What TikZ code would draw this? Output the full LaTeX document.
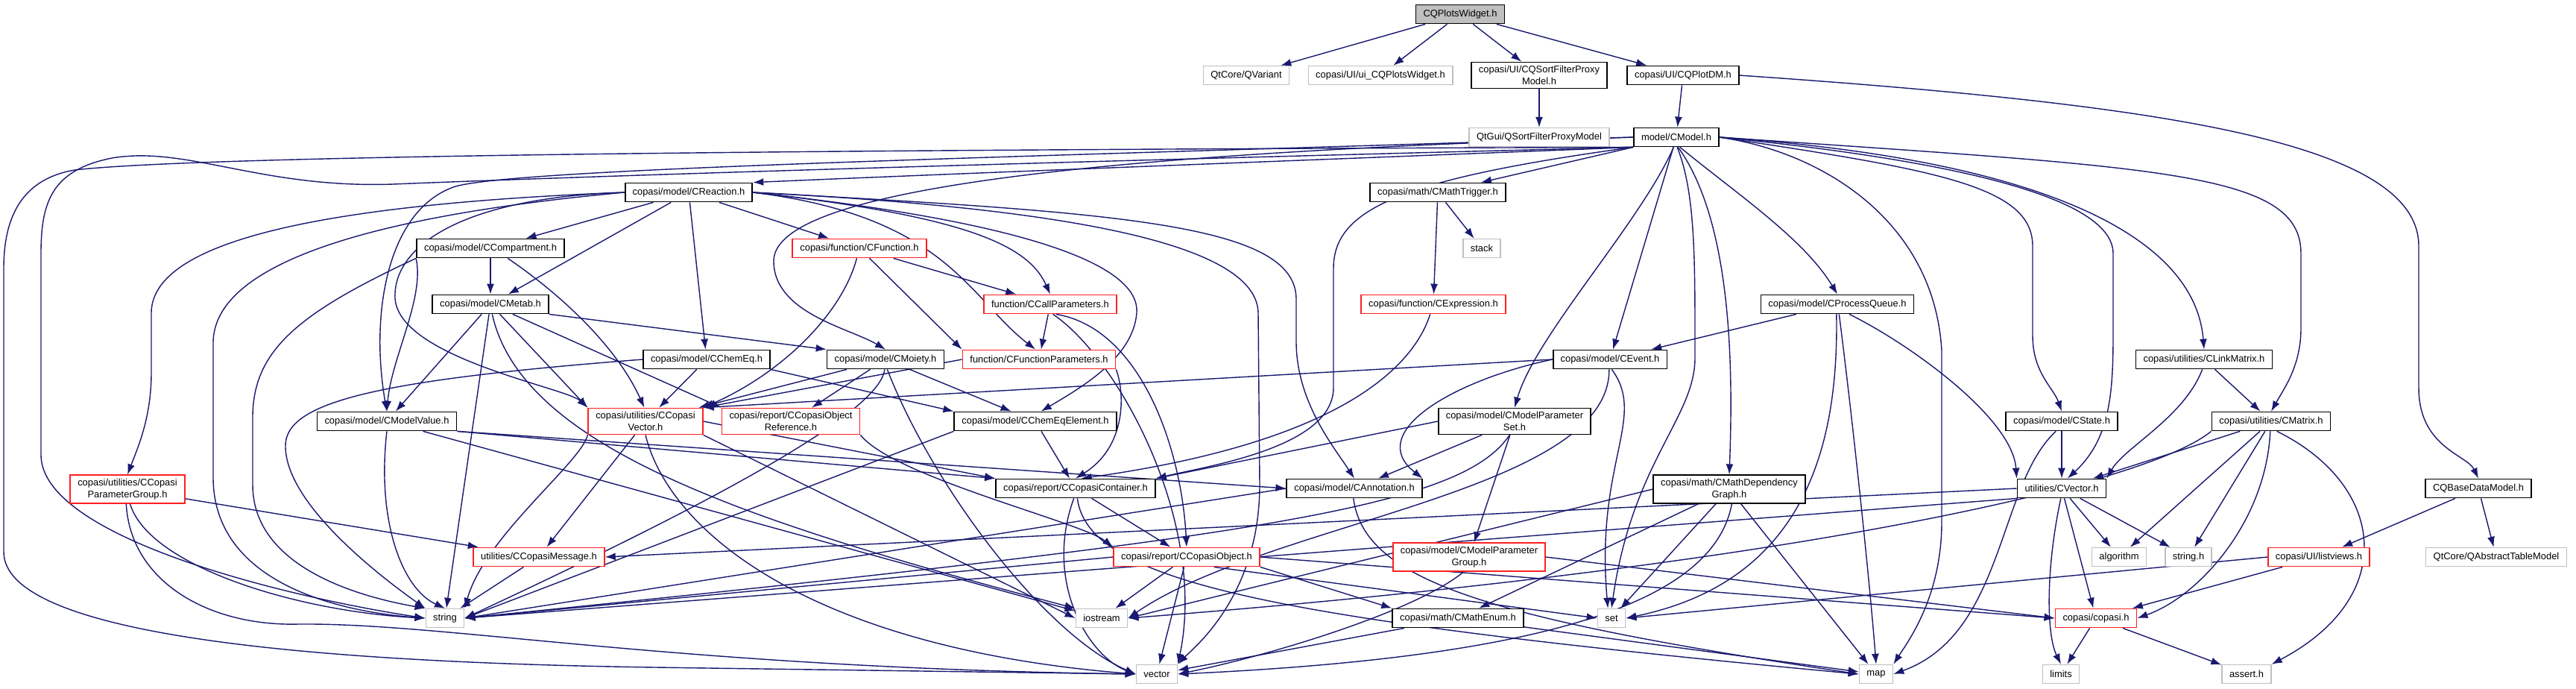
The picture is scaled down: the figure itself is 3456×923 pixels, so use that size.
\documentclass[tikz,border=0pt]{standalone}
\usepackage{fontspec}
\setmainfont{Liberation Sans}
\usepackage{tikz}
\usetikzlibrary{arrows.meta}
\definecolor{depblue}{HTML}{191970}
\definecolor{hdrred}{HTML}{FF2020}
\definecolor{hdrgray}{HTML}{BFBFBF}
\newcommand{\hdrfont}{\fontsize{3.67}{4.4}\selectfont}
\pgfdeclarelayer{bg}
\pgfsetlayers{bg,main}

\begin{document}
\begin{tikzpicture}[x=0.01cm,y=-0.01cm,>=Latex,
  hdr/.style={draw=black,line width=0.5pt,fill=white,font=\hdrfont,align=center,inner xsep=0.1cm,inner ysep=0.05cm,minimum height=0.25cm},
  hdrbad/.style={hdr,draw=hdrred},
  hdrsys/.style={hdr,draw=hdrgray,line width=0.4pt},
  hdrtop/.style={hdr,fill=hdrgray},
  dep/.style={draw=depblue,line width=0.4pt,-{Latex[length=1.4mm,width=1mm]}}]
  \useasboundingbox (0,0) rectangle (3456,923);

  % row 0 - 2
  \node[hdrtop] (w) at (1959,19) {CQPlotsWidget.h};
  \node[hdrsys] (qvar) at (1672,101) {QtCore/QVariant};
  \node[hdrsys] (uiw) at (1852,101) {copasi/UI/ui\_CQPlotsWidget.h};
  \node[hdr] (sfpm) at (2065,101) {copasi/UI/CQSortFilterProxy\\Model.h};
  \node[hdr] (pdm) at (2258,101) {copasi/UI/CQPlotDM.h};
  \node[hdrsys] (qsfpm) at (2065,184) {QtGui/QSortFilterProxyModel};
  \node[hdr] (cmodel) at (2249,184) {model/CModel.h};
  % row 3 - 6
  \node[hdr] (creac) at (924,258) {copasi/model/CReaction.h};
  \node[hdr] (ctrig) at (1929,258) {copasi/math/CMathTrigger.h};
  \node[hdr] (ccomp) at (658,333) {copasi/model/CCompartment.h};
  \node[hdrbad] (cfunc) at (1153,333) {copasi/function/CFunction.h};
  \node[hdrsys] (stack) at (1988,333) {stack};
  \node[hdr] (cmetab) at (658,408) {copasi/model/CMetab.h};
  \node[hdrbad] (ccall) at (1409,408) {function/CCallParameters.h};
  \node[hdrbad] (cexpr) at (1923,408) {copasi/function/CExpression.h};
  \node[hdr] (cpq) at (2465,408) {copasi/model/CProcessQueue.h};
  \node[hdr] (cchemeq) at (948,482) {copasi/model/CChemEq.h};
  \node[hdr] (cmoiety) at (1188,482) {copasi/model/CMoiety.h};
  \node[hdrbad] (cfpar) at (1394,482) {function/CFunctionParameters.h};
  \node[hdr] (cevent) at (2160,482) {copasi/model/CEvent.h};
  \node[hdr] (clink) at (2957,482) {copasi/utilities/CLinkMatrix.h};
  % row 7 - 8
  \node[hdr] (cmval) at (519,565) {copasi/model/CModelValue.h};
  \node[hdrbad] (ccvec) at (866,565) {copasi/utilities/CCopasi\\Vector.h};
  \node[hdrbad] (cobjref) at (1061,565) {copasi/report/CCopasiObject\\Reference.h};
  \node[hdr] (cceel) at (1389,565) {copasi/model/CChemEqElement.h};
  \node[hdr] (cmpset) at (2032,565) {copasi/model/CModelParameter\\Set.h};
  \node[hdr] (cstate) at (2766,565) {copasi/model/CState.h};
  \node[hdr] (cmatrix) at (3047,565) {copasi/utilities/CMatrix.h};
  \node[hdrbad] (cpgroup) at (171,656) {copasi/utilities/CCopasi\\ParameterGroup.h};
  \node[hdr] (ccont) at (1443,655) {copasi/report/CCopasiContainer.h};
  \node[hdr] (cannot) at (1817,655) {copasi/model/CAnnotation.h};
  \node[hdr] (cmdg) at (2320,656) {copasi/math/CMathDependency\\Graph.h};
  \node[hdr] (cvector) at (2766,655) {utilities/CVector.h};
  \node[hdr] (cqbdm) at (3325,655) {CQBaseDataModel.h};
  % row 9 - 11
  \node[hdrbad] (cmsg) at (723,747) {utilities/CCopasiMessage.h};
  \node[hdrbad] (cobj) at (1592,747) {copasi/report/CCopasiObject.h};
  \node[hdrbad] (cmpgroup) at (1971,747) {copasi/model/CModelParameter\\Group.h};
  \node[hdrsys] (algo) at (2843,747) {algorithm};
  \node[hdrsys] (strh) at (2936,747) {string.h};
  \node[hdrbad] (lview) at (3111,747) {copasi/UI/listviews.h};
  \node[hdrsys] (qatm) at (3349,747) {QtCore/QAbstractTableModel};
  \node[hdrsys] (string) at (597,829) {string};
  \node[hdrsys] (iostream) at (1478,829) {iostream};
  \node[hdr] (cmenum) at (1956,829) {copasi/math/CMathEnum.h};
  \node[hdrsys] (set) at (2162,829) {set};
  \node[hdrbad] (copasi) at (2812,829) {copasi/copasi.h};
  \node[hdrsys] (vector) at (1552,904) {vector};
  \node[hdrsys] (map) at (2517,904) {map};
  \node[hdrsys] (limits) at (2765,904) {limits};
  \node[hdrsys] (assert) at (3014,904) {assert.h};

  \begin{pgfonlayer}{bg}
  \fill[white] (0,0) rectangle (3456,923);
  % top of the graph
  \draw[dep] (w) -- (qvar);
  \draw[dep] (w) -- (uiw);
  \draw[dep] (w) -- (sfpm);
  \draw[dep] (w) -- (pdm);
  \draw[dep] (sfpm) -- (qsfpm);
  \draw[dep] (pdm) -- (cmodel);
  \draw[dep] (pdm.east) .. controls (2900,140) and (3245,190) .. (3245,330) -- (3245,520) .. controls (3245,600) and (3310,610) .. (cqbdm.north);
  % model/CModel.h
  \draw[dep] (cmodel.south west) .. controls (1750,215) and (1300,232) .. (creac.north east);
  \draw[dep] (cmodel) -- (ctrig);
  \draw[dep] (cmodel.290) .. controls (2330,260) and (2420,320) .. (cpq.north);
  \draw[dep] (cmodel) -- (cevent);
  \draw[dep] (cmodel.255) .. controls (2200,300) and (2060,450) .. (cmpset.north);
  \draw[dep] (cmodel.280) .. controls (2325,300) and (2325,500) .. (cmdg.north);
  \draw[dep] (cmodel.275) .. controls (2275,260) and (2274,350) .. (2274,480) .. controls (2274,560) and (2190,620) .. (set.north);
  \draw[dep] (cmodel.east) .. controls (2450,205) and (2595,300) .. (2605,470) -- (2605,700) .. controls (2605,800) and (2560,860) .. (map.north east);
  \draw[dep] (cmodel.east) .. controls (2750,215) and (2945,320) .. (clink.north);
  \draw[dep] (cmodel.east) .. controls (2900,225) and (3087,230) .. (3087,340) -- (3087,440) .. controls (3087,490) and (3065,520) .. (cmatrix.north);
  \draw[dep] (cmodel.east) .. controls (2600,228) and (2727,250) .. (2727,330) -- (2727,450) .. controls (2727,500) and (2755,520) .. (cstate.north);
  \draw[dep] (cmodel.east) .. controls (2650,218) and (2835,270) .. (2835,340) -- (2835,450) .. controls (2835,530) and (2830,590) .. (cvector.60);
  \draw[dep] (cmodel.south west) .. controls (1880,240) and (1789,280) .. (1789,360) -- (1789,520) .. controls (1789,600) and (1620,625) .. (ccont.north east);
  \draw[dep] (cmodel.west) .. controls (1500,205) and (1038,250) .. (1038,350) .. controls (1038,420) and (1140,440) .. (cmoiety.north);
  \draw[dep] (cmodel.west) .. controls (1400,210) and (700,225) .. (611,250) .. controls (520,280) and (496,420) .. (cmval.north);
  \draw[dep] (cmodel.south west) .. controls (1500,215) and (900,232) .. (527,247) .. controls (350,253) and (250,195) .. (150,212) .. controls (70,228) and (55,270) .. (55,340) -- (55,610) .. controls (55,720) and (380,800) .. (string.west);
  \draw[dep] (cmodel.south west) .. controls (1400,200) and (300,205) .. (100,228) .. controls (30,240) and (5,290) .. (5,360) -- (5,740) .. controls (5,850) and (400,888) .. (880,895) -- (vector.west);
  % copasi/model/CReaction.h
  \draw[dep] (creac) -- (ccomp);
  \draw[dep] (creac) -- (cmetab);
  \draw[dep] (creac) -- (cfunc);
  \draw[dep] (creac) -- (cchemeq);
  \draw[dep] (creac.east) .. controls (1300,290) and (1380,330) .. (ccall.north);
  \draw[dep] (creac.east) .. controls (1270,290) and (1300,400) .. (cfpar.110);
  \draw[dep] (creac.east) .. controls (1400,300) and (1530,360) .. (1525,420) .. controls (1520,480) and (1450,520) .. (cceel.60);
  \draw[dep] (creac.east) .. controls (1500,285) and (1737,300) .. (1739,400) -- (1739,460) .. controls (1740,540) and (1790,600) .. (cannot.north);
  \draw[dep] (creac.east) .. controls (1450,280) and (1687,330) .. (1688,420) -- (1690,650) .. controls (1690,800) and (1600,870) .. (vector.north east);
  \draw[dep] (creac.west) .. controls (620,265) and (527,330) .. (530,400) .. controls (535,480) and (760,520) .. (ccvec.north west);
  \draw[dep] (creac.west) .. controls (400,275) and (203,330) .. (203,420) -- (203,500) .. controls (203,560) and (185,600) .. (cpgroup.north);
  \draw[dep] (creac.west) .. controls (600,280) and (286,330) .. (286,460) -- (286,640) .. controls (286,780) and (450,820) .. (string.west);
  % copasi/model/CCompartment.h
  \draw[dep] (ccomp) -- (cmetab);
  \draw[dep] (ccomp.-30) .. controls (760,400) and (830,470) .. (ccvec.95);
  \draw[dep] (ccomp.south west) .. controls (570,400) and (525,480) .. (cmval.north);
  \draw[dep] (ccomp.south west) .. controls (400,420) and (339,470) .. (339,560) -- (339,650) .. controls (339,760) and (480,800) .. (string.north west);
  % copasi/model/CMetab.h
  \draw[dep] (cmetab) -- (cmval);
  \draw[dep] (cmetab) -- (ccvec.north west);
  \draw[dep] (cmetab.south east) -- (cmoiety.north west);
  \draw[dep] (cmetab) -- (cobjref.north west);
  \draw[dep] (cmetab) -- (string);
  \draw[dep] (cmetab.-80) .. controls (700,600) and (1000,700) .. (iostream.north west);
  % copasi/function/CFunction.h and friends
  \draw[dep] (cfunc) -- (ccall);
  \draw[dep] (cfunc) -- (cfpar.north west);
  \draw[dep] (cfunc.255) .. controls (1130,420) and (1050,500) .. (ccvec.north east);
  \draw[dep] (ccall) -- (cfpar);
  \draw[dep] (ccall.-60) .. controls (1530,440) and (1585,600) .. (cobj.north);
  \draw[dep] (ccall.-75) .. controls (1500,480) and (1620,700) .. (vector.north east);
  \draw[dep] (ctrig) -- (stack);
  \draw[dep] (ctrig) -- (cexpr);
  \draw[dep] (cexpr) .. controls (1900,480) and (1820,590) .. (ccont.60);
  % copasi/model/CProcessQueue.h
  \draw[dep] (cpq) -- (cevent);
  \draw[dep] (cpq.-95) .. controls (2467,600) and (2420,780) .. (set.east);
  \draw[dep] (cpq.-80) .. controls (2490,600) and (2510,800) .. (map.north);
  \draw[dep] (cpq.-40) .. controls (2560,460) and (2700,560) .. (cvector.north west);
  % copasi/model/CChemEq.h, CMoiety.h, CFunctionParameters.h
  \draw[dep] (cchemeq) -- (ccvec);
  \draw[dep] (cchemeq.south east) -- (cceel.north west);
  \draw[dep] (cchemeq.west) .. controls (500,510) and (380,540) .. (383,600) .. controls (385,680) and (520,780) .. (string.north west);
  \draw[dep] (cmoiety) -- (ccvec);
  \draw[dep] (cmoiety) -- (cobjref);
  \draw[dep] (cmoiety) -- (cceel);
  \draw[dep] (cmoiety.-95) .. controls (1180,560) and (900,700) .. (string.east);
  \draw[dep] (cmoiety.-80) .. controls (1250,650) and (1400,850) .. (vector.west);
  \draw[dep] (cfpar.west) -- (ccvec.north east);
  \draw[dep] (cfpar.south east) .. controls (1510,530) and (1510,600) .. (ccont.north);
  % copasi/model/CEvent.h
  \draw[dep] (cevent.west) -- (ccvec.north east);
  \draw[dep] (cevent.west) .. controls (1950,510) and (1830,580) .. (cannot.north east);
  \draw[dep] (cevent.-80) .. controls (2210,560) and (2140,620) .. (set.110);
  \draw[dep] (cevent.-95) .. controls (2160,660) and (1700,700) .. (iostream.east);
  % copasi/utilities/CLinkMatrix.h
  \draw[dep] (clink.-100) .. controls (2930,560) and (2850,600) .. (cvector.north east);
  \draw[dep] (clink) -- (cmatrix);
  % copasi/model/CModelValue.h
  \draw[dep] (cmval.south east) -- (ccont.north west);
  \draw[dep] (cmval.south east) -- (cannot.west);
  \draw[dep] (cmval.south) .. controls (505,700) and (540,790) .. (string.north);
  \draw[dep] (cmval) -- (iostream);
  % copasi/utilities/CCopasiVector.h
  \draw[dep] (ccvec.south west) .. controls (780,620) and (650,720) .. (string.north east);
  \draw[dep] (ccvec) -- (cmsg);
  \draw[dep] (ccvec.east) -- (ccont.north west);
  \draw[dep] (ccvec.south east) -- (iostream.west);
  \draw[dep] (ccvec.south) .. controls (900,720) and (1100,870) .. (vector.west);
  \draw[dep] (cobjref.south east) .. controls (1200,640) and (1450,700) .. (cobj.north west);
  \draw[dep] (cceel) -- (ccont);
  \draw[dep] (cceel.south west) -- (string.east);
  % copasi/model/CModelParameterSet.h
  \draw[dep] (cmpset.west) -- (ccont.north east);
  \draw[dep] (cmpset) -- (cannot);
  \draw[dep] (cmpset) -- (cmpgroup);
  \draw[dep] (cmpset.250) .. controls (1960,680) and (1700,720) .. (string.east);
  % copasi/model/CState.h, CMatrix.h
  \draw[dep] (cstate) -- (cvector);
  \draw[dep] (cstate.-120) .. controls (2680,650) and (2690,850) .. (map.east);
  \draw[dep] (cmatrix) -- (cvector);
  \draw[dep] (cmatrix) -- (algo);
  \draw[dep] (cmatrix) -- (strh);
  \draw[dep] (cmatrix.-95) .. controls (3040,700) and (2950,800) .. (copasi.east);
  \draw[dep] (cmatrix.-60) .. controls (3200,650) and (3220,800) .. (assert.north east);
  \draw[dep] (cmatrix.south west) .. controls (2880,650) and (2400,760) .. (iostream.east);
  % copasi/utilities/CCopasiParameterGroup.h
  \draw[dep] (cpgroup) -- (cmsg);
  \draw[dep] (cpgroup.-80) .. controls (200,760) and (400,820) .. (string.west);
  \draw[dep] (cpgroup.-95) .. controls (175,780) and (280,840) .. (400,837) .. controls (600,835) and (900,895) .. (vector.west);
  % copasi/report/CCopasiContainer.h, CAnnotation.h
  \draw[dep] (ccont) -- (cobj);
  \draw[dep] (ccont.-100) .. controls (1400,780) and (1460,880) .. (vector.west);
  \draw[dep] (ccont.-80) .. controls (1460,780) and (1700,830) .. (map.west);
  \draw[dep] (cannot.-95) .. controls (1830,780) and (2000,830) .. (map.west);
  \draw[dep] (cannot.west) -- (string.east);
  % copasi/math/CMathDependencyGraph.h
  \draw[dep] (cmdg) -- (cmenum);
  \draw[dep] (cmdg) -- (set);
  \draw[dep] (cmdg) -- (map);
  \draw[dep] (cmdg.-80) .. controls (2300,800) and (2100,880) .. (vector.east);
  \draw[dep] (cmdg.west) -- (iostream.east);
  % utilities/CVector.h
  \draw[dep] (cvector) -- (algo);
  \draw[dep] (cvector) -- (strh);
  \draw[dep] (cvector) -- (copasi);
  \draw[dep] (cvector.-95) .. controls (2745,760) and (2745,850) .. (limits.north);
  \draw[dep] (cvector.west) -- (cmsg.east);
  \draw[dep] (cvector.south west) -- (string.east);
  % CQBaseDataModel.h, listviews.h, copasi.h
  \draw[dep] (cqbdm) -- (lview);
  \draw[dep] (cqbdm) -- (qatm);
  \draw[dep] (lview) -- (copasi);
  \draw[dep] (lview.west) -- (set.east);
  \draw[dep] (copasi) -- (limits);
  \draw[dep] (copasi) -- (assert);
  % lowest rows
  \draw[dep] (cmsg) -- (string);
  \draw[dep] (cobj.west) -- (string.east);
  \draw[dep] (cobj) -- (iostream);
  \draw[dep] (cobj) -- (vector);
  \draw[dep] (cobj.south east) -- (cmenum.north west);
  \draw[dep] (cobj.-20) -- (set.west);
  \draw[dep] (cobj.east) -- (copasi.west);
  \draw[dep] (cmpgroup.east) -- (copasi.west);
  \draw[dep] (cmpgroup.-110) .. controls (1900,820) and (1700,880) .. (vector.east);
  \draw[dep] (cmenum) -- (vector);
  \draw[dep] (cmenum) -- (map);
  \end{pgfonlayer}
\end{tikzpicture}
\end{document}
